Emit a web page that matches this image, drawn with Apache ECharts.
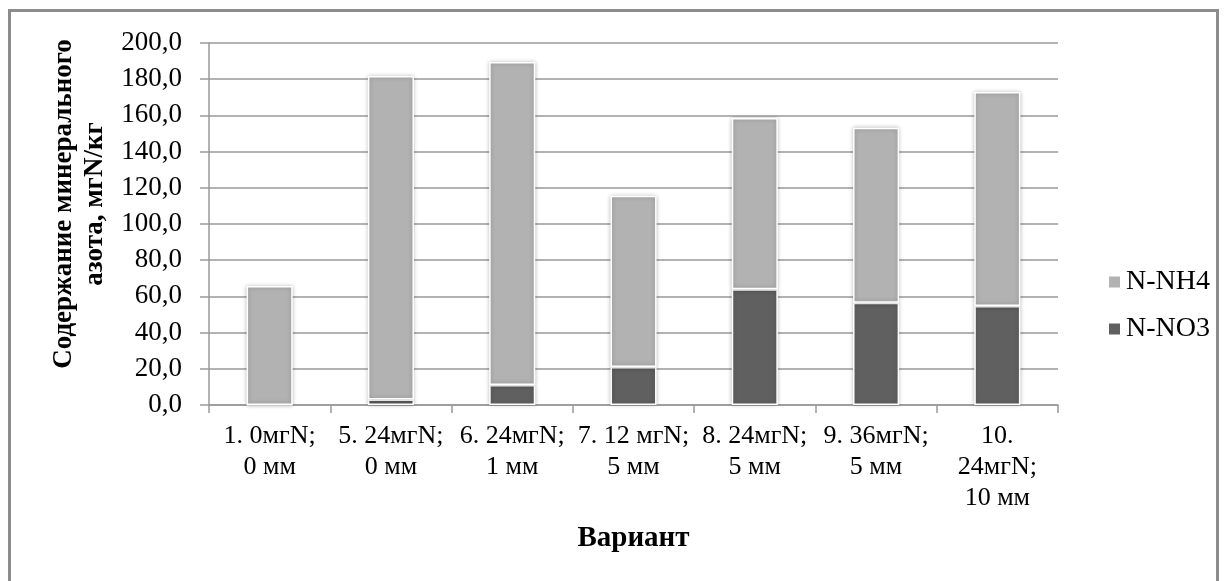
<!DOCTYPE html>
<html><head><meta charset="utf-8">
<script src="https://cdn.jsdelivr.net/npm/echarts@6/dist/echarts.min.js"></script>
<style>
html,body{margin:0;padding:0;background:#fff;}
#frame{position:absolute;left:8px;top:9px;width:1211px;height:600px;border:3px solid #8c8c8c;box-sizing:border-box;}
#c{position:absolute;left:0;top:0;width:1226px;height:581px;}
</style></head>
<body>
<div id="frame"></div>
<div id="c"></div>
<script>
const categories = ["1. 0мгN;\n0 мм","5. 24мгN;\n0 мм","6. 24мгN;\n1 мм","7. 12 мгN;\n5 мм","8. 24мгN;\n5 мм","9. 36мгN;\n5 мм","10.\n24мгN;\n10 мм"];
const nNO3 = [0, 3.0, 11.0, 21.0, 64.0, 56.5, 54.7];
const nNH4 = [65.7, 178.8, 178.5, 94.6, 94.6, 96.7, 118.2];
const yTicks = {min: 0, max: 200, interval: 20};

const chart = echarts.init(document.getElementById('c'));
const font = 'Liberation Serif';
const barStyle = (color) => ({color: color, borderColor: '#fff', borderWidth: 1.5, shadowBlur: 4, shadowColor: 'rgba(0,0,0,0.25)'});
chart.setOption({
  animation: false,
  textStyle: {fontFamily: font},
  grid: {left: 209, right: 168, top: 43, bottom: 176},
  legend: {
    orient: 'vertical', left: 1102, top: 263,
    data: ['N-NH4', 'N-NO3'],
    itemWidth: 13, itemHeight: 13, itemGap: 19,
    icon: 'rect',
    formatter: '{a|{name}}',
    textStyle: {fontFamily: font, fontSize: 28, lineHeight: 28, color: '#000',
      rich: {a: {fontFamily: font, fontSize: 28, lineHeight: 28, color: '#000'}}}
  },
  xAxis: {
    type: 'category', data: categories,
    name: 'Вариант', nameLocation: 'middle', nameGap: 119,
    nameTextStyle: {fontFamily: font, fontSize: 29, fontWeight: 'bold', color: '#000'},
    axisLine: {lineStyle: {color: '#999', width: 1.5}},
    axisTick: {show: true, length: 8, lineStyle: {color: '#999', width: 1.5}},
    axisLabel: {interval: 0, fontFamily: font, fontSize: 26, color: '#000', lineHeight: 31, margin: 16}
  },
  yAxis: {
    type: 'value', min: yTicks.min, max: yTicks.max, interval: yTicks.interval,
    name: 'Содержание минерального\nазота, мгN/кг', nameLocation: 'middle', nameRotate: 90, nameGap: 94,
    nameTextStyle: {fontFamily: font, fontSize: 27, fontWeight: 'bold', color: '#000', lineHeight: 31, padding: [0,0,0,40]},
    axisLine: {show: true, lineStyle: {color: '#999', width: 1.5}},
    axisTick: {show: true, length: 9, lineStyle: {color: '#999', width: 1.5}},
    splitLine: {lineStyle: {color: '#999', width: 1.5}},
    axisLabel: {fontFamily: font, fontSize: 27, color: '#000', margin: 27,
      formatter: v => v.toFixed(1).replace('.', ',')}
  },
  series: [
    {name: 'N-NO3', type: 'bar', stack: 's', data: nNO3, barWidth: '38%', itemStyle: barStyle('#606060')},
    {name: 'N-NH4', type: 'bar', stack: 's', data: nNH4, barWidth: '38%', itemStyle: barStyle('#b2b2b2')}
  ]
});
</script>
</body></html>
